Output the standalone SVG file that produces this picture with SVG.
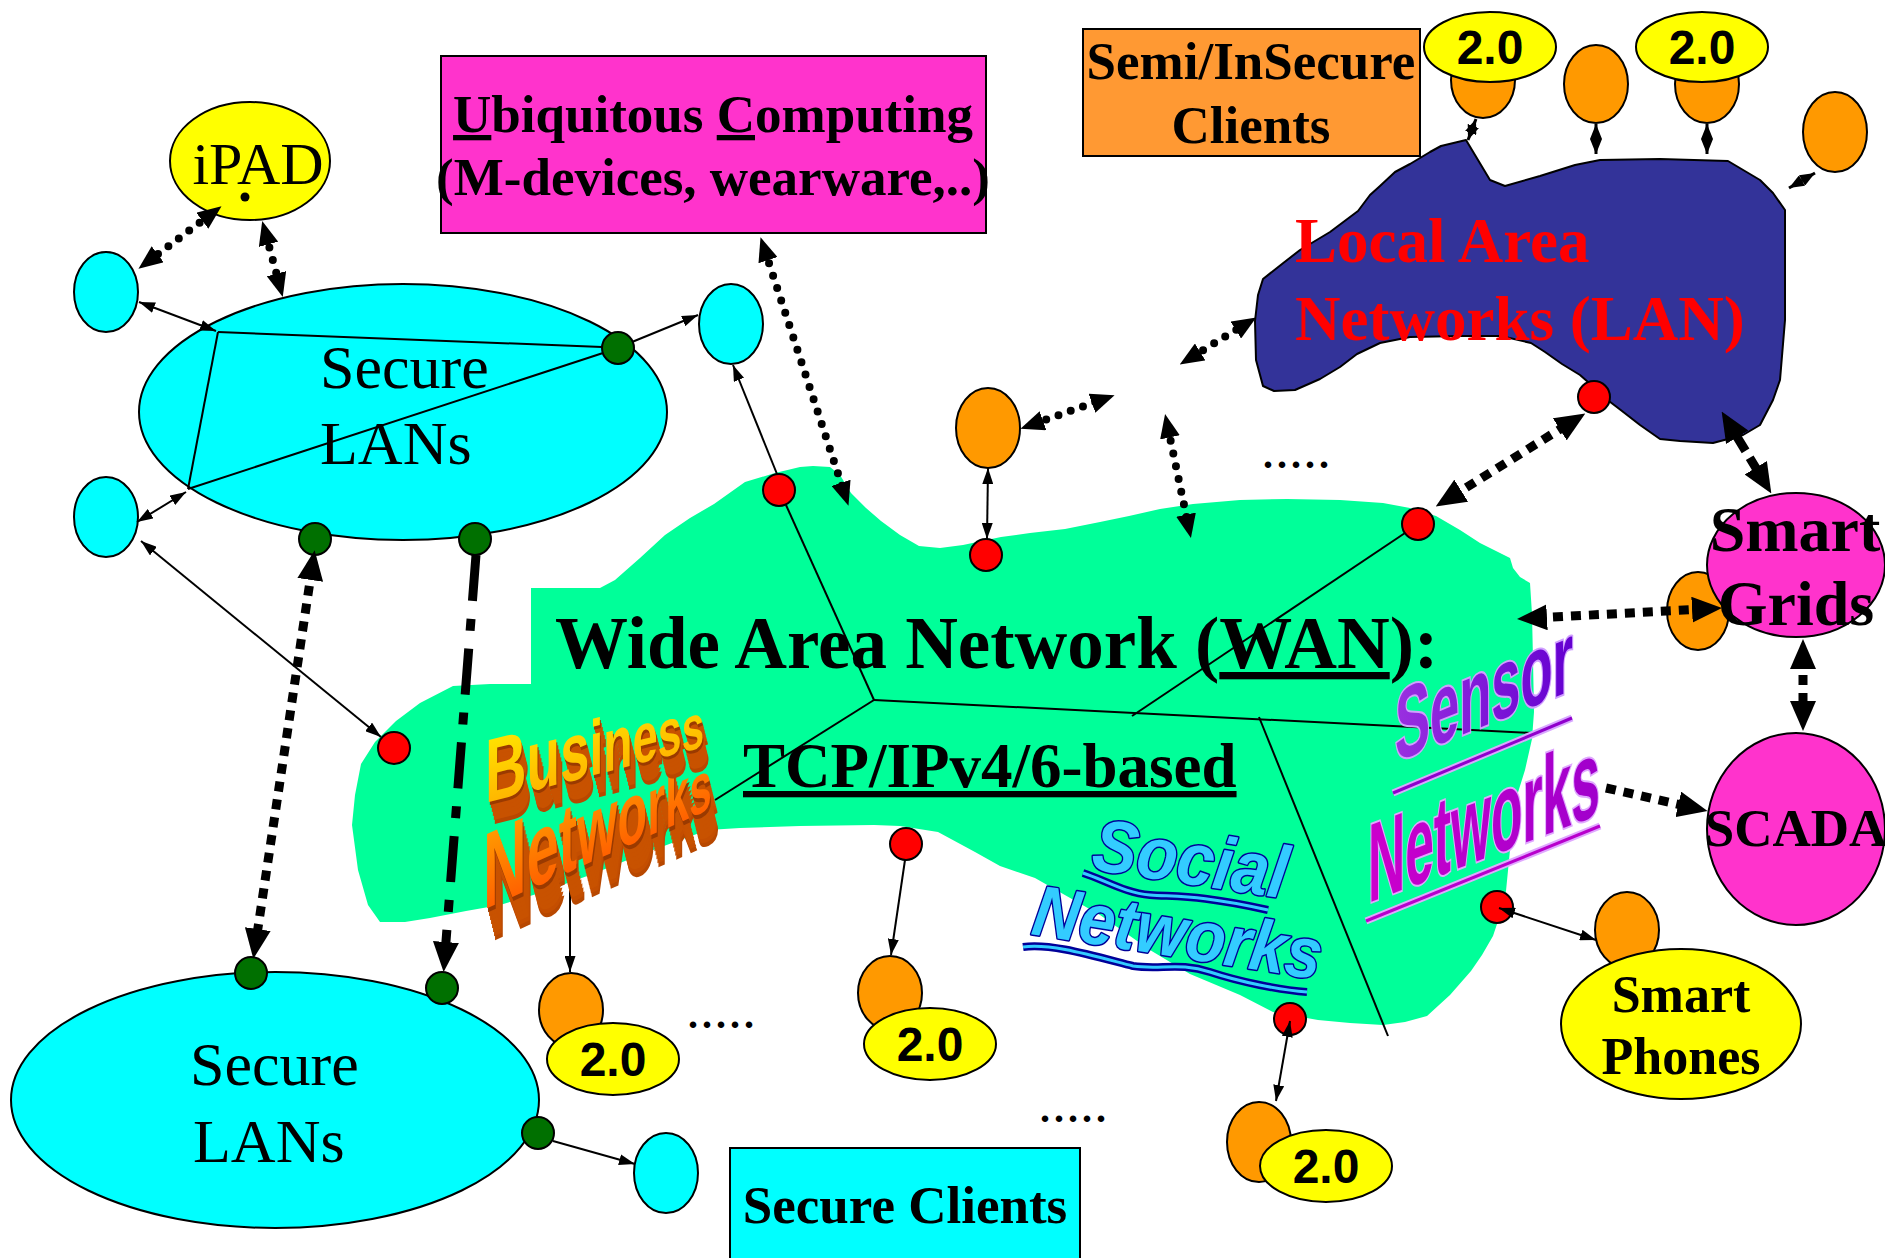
<svg xmlns="http://www.w3.org/2000/svg" xmlns:xlink="http://www.w3.org/1999/xlink" width="1885" height="1258" viewBox="0 0 1885 1258">
<style>
.sf{font-family:"Liberation Serif","Times New Roman",serif;fill:#000}
.bd{font-weight:bold}
.ss{font-family:"Liberation Sans",Arial,sans-serif;font-weight:bold}
.th{fill:none;stroke:#000;stroke-width:2}
.dr{fill:none;stroke:#000;stroke-width:8;stroke-dasharray:0 13;stroke-linecap:round}
.ds{fill:none;stroke:#000;stroke-width:9;stroke-dasharray:10 8}
.red{fill:#FF0000;stroke:#000;stroke-width:2}
.grn{fill:#007000;stroke:#000;stroke-width:2}
.org{fill:#FF9900;stroke:#000;stroke-width:2}
.cyn{fill:#00FFFF;stroke:#000;stroke-width:2}
.yel{fill:#FFFF00;stroke:#000;stroke-width:2}
.pnk{fill:#FF33CC;stroke:#000;stroke-width:2}
.v2{font-family:"Liberation Sans",Arial,sans-serif;font-weight:bold;font-size:48px;text-anchor:middle}
.dots{font-family:"Liberation Serif",serif;font-weight:bold;font-size:40px;letter-spacing:4px}
</style>
<defs>
<marker id="t" viewBox="0 0 10 10" refX="10" refY="5" markerWidth="16" markerHeight="11" markerUnits="userSpaceOnUse" orient="auto-start-reverse" preserveAspectRatio="none"><path d="M0,0L10,5L0,10z"/></marker>
<marker id="s" viewBox="0 0 10 10" refX="10" refY="5" markerWidth="15" markerHeight="12" markerUnits="userSpaceOnUse" orient="auto-start-reverse" preserveAspectRatio="none"><path d="M0,0L10,5L0,10z"/></marker>
<marker id="d" viewBox="0 0 10 10" refX="4" refY="5" markerWidth="24" markerHeight="20" markerUnits="userSpaceOnUse" orient="auto-start-reverse" preserveAspectRatio="none"><path d="M0,0L10,5L0,10z"/></marker>
<marker id="k" viewBox="0 0 10 10" refX="4" refY="5" markerWidth="30" markerHeight="26" markerUnits="userSpaceOnUse" orient="auto-start-reverse" preserveAspectRatio="none"><path d="M0,0L10,5L0,10z"/></marker>
<linearGradient id="gBiz" x1="0" y1="0" x2="0" y2="1"><stop offset="0" stop-color="#FFEE00"/><stop offset="1" stop-color="#FFAA00"/></linearGradient>
<linearGradient id="gNet" x1="0" y1="0" x2="0" y2="1"><stop offset="0" stop-color="#FFAA00"/><stop offset="1" stop-color="#FF5000"/></linearGradient>
<linearGradient id="gSen" x1="0" y1="0" x2="1" y2="0"><stop offset="0" stop-color="#9A30E0"/><stop offset="1" stop-color="#6400D0"/></linearGradient>
<linearGradient id="gSNet" x1="0" y1="0" x2="1" y2="0"><stop offset="0" stop-color="#CC00CC"/><stop offset="1" stop-color="#A000CC"/></linearGradient>
<g id="bizT" transform="translate(485,803) skewY(-14.4) scale(0.64,1)"><text class="ss" x="0" y="0"><tspan font-size="90">B</tspan><tspan font-size="86">u</tspan><tspan font-size="82">s</tspan><tspan font-size="78">i</tspan><tspan font-size="75">n</tspan><tspan font-size="71">e</tspan><tspan font-size="67">s</tspan><tspan font-size="63">s</tspan></text></g>
<g id="netT" transform="translate(483,910) skewY(-24) scale(0.56,1)"><text class="ss" x="0" y="0"><tspan font-size="108">N</tspan><tspan font-size="103">e</tspan><tspan font-size="98">t</tspan><tspan font-size="93">w</tspan><tspan font-size="87">o</tspan><tspan font-size="82">r</tspan><tspan font-size="77">k</tspan><tspan font-size="72">s</tspan></text></g>
</defs>

<rect width="1885" height="1258" fill="#FFFFFF"/>

<g id="wan">
<path fill="#00FF99" d="M531,588 L600,588 L615,580 L640,558 L665,535 L690,518 L714,504 L745,482 L775,473 L800,467 L813,466 L830,467 L840,475 L851,493 L866,508 L881,521 L900,535 L919,546 L940,548 L963,545 L1001,537 L1030,533 L1065,529 L1100,522 L1129,516 L1160,509 L1193,504 L1240,500 L1287,499 L1340,500 L1383,503 L1410,508 L1436,516 L1460,530 L1480,543 L1500,553 L1510,558 L1513,568 L1520,577 L1530,583 L1532,614 L1533,660 L1534,712 L1532,739 L1525,770 L1515,802 L1510,850 L1506,891 L1500,915 L1493,936 L1482,955 L1471,971 L1450,995 L1427,1016 L1405,1022 L1383,1025 L1350,1023 L1318,1020 L1273,1012 L1240,995 L1190,974 L1150,950 L1100,915 L1035,878 L1000,866 L975,852 L938,832 L900,826 L874,825 L800,826 L740,828 L708,830 L680,840 L640,855 L590,875 L540,893 L500,905 L466,911 L430,918 L405,922 L380,922 L368,905 L358,870 L352,825 L355,795 L361,764 L375,742 L396,721 L420,703 L453,686 L490,684 L531,684 Z"/>
<text class="sf bd" x="555" y="668" font-size="73">Wide Area Network (<tspan text-decoration="underline">WAN</tspan>):</text>
<text class="sf bd" x="743" y="787" font-size="63" text-decoration="underline">TCP/IPv4/6-based</text>
</g>

<g id="lan">
<path fill="#333399" stroke="#000" stroke-width="2" stroke-linejoin="round" d="M1466,140 L1478,160 L1490,180 L1505,186 L1540,176 L1575,165 L1600,160 L1660,159 L1728,161 L1760,180 L1773,193 L1785,210 L1785,320 L1780,380 L1773,400 L1760,425 L1743,435 L1713,443 L1680,441 L1660,439 L1640,425 L1622,411 L1605,398 L1596,389 L1580,375 L1562,364 L1545,352 L1531,343 L1501,336 L1460,336 L1410,337 L1380,343 L1357,354 L1340,367 L1320,379 L1295,390 L1274,391 L1263,386 L1256,360 L1255,321 L1258,295 L1263,279 L1282,264 L1300,250 L1330,232 L1358,211 L1370,195 L1380,186 L1395,172 L1410,164 L1430,152 L1441,146 Z"/>
<text class="sf bd" x="1295" y="262" font-size="63" style="fill:#FF0000">Local Area</text>
<text class="sf bd" x="1295" y="340" font-size="63" style="fill:#FF0000">Networks (LAN)</text>
</g>

<g id="secure-lans-top">
<ellipse class="cyn" cx="403" cy="412" rx="264" ry="128"/>
<text class="sf" x="320" y="388" font-size="62">Secure</text>
<text class="sf" x="320" y="464" font-size="62">LANs</text>
</g>
<g id="secure-lans-bottom">
<ellipse class="cyn" cx="275" cy="1100" rx="264" ry="128"/>
<text class="sf" x="190" y="1085" font-size="62">Secure</text>
<text class="sf" x="193" y="1162" font-size="62">LANs</text>
</g>
<g id="ipad">
<ellipse class="yel" cx="250" cy="161" rx="80" ry="59"/>
<text class="sf" x="258" y="184" font-size="60" text-anchor="middle">iPAD</text>
</g>
<g id="ubiquitous">
<rect x="441" y="56" width="545" height="177" class="pnk"/>
<text class="sf bd" x="713" y="132" font-size="53" text-anchor="middle"><tspan text-decoration="underline">U</tspan>biquitous <tspan text-decoration="underline">C</tspan>omputing</text>
<text class="sf bd" x="713" y="195" font-size="53" text-anchor="middle">(M-devices, wearware,..)</text>
</g>
<g id="semi-insecure">
<rect x="1083" y="29" width="337" height="127" fill="#FF9933" stroke="#000" stroke-width="2"/>
<text class="sf bd" x="1251" y="79" font-size="53" text-anchor="middle">Semi/InSecure</text>
<text class="sf bd" x="1251" y="143" font-size="53" text-anchor="middle">Clients</text>
</g>
<g id="secure-clients">
<rect x="730" y="1148" width="350" height="120" class="cyn"/>
<text class="sf bd" x="905" y="1223" font-size="53" text-anchor="middle">Secure Clients</text>
</g>

<g id="cyan-clients">
<ellipse class="cyn" cx="106" cy="292" rx="32" ry="40"/>
<ellipse class="cyn" cx="106" cy="517" rx="32" ry="40"/>
<ellipse class="cyn" cx="731" cy="324" rx="32" ry="40"/>
<ellipse class="cyn" cx="666" cy="1173" rx="32" ry="40"/>
</g>

<g id="orange-clients">
<ellipse class="org" cx="988" cy="428" rx="32" ry="40"/>
<ellipse class="org" cx="1483" cy="80" rx="32" ry="38"/>
<ellipse class="org" cx="1596" cy="84" rx="32" ry="39"/>
<ellipse class="org" cx="1707" cy="84" rx="32" ry="39"/>
<ellipse class="org" cx="1835" cy="132" rx="32" ry="40"/>
<ellipse class="org" cx="1698" cy="611" rx="31" ry="39"/>
<ellipse class="org" cx="1627" cy="930" rx="32" ry="38"/>
<ellipse class="org" cx="571" cy="1010" rx="32" ry="37"/>
<ellipse class="org" cx="890" cy="993" rx="32" ry="37"/>
<ellipse class="org" cx="1259" cy="1142" rx="32" ry="40"/>
</g>

<g id="web20">
<ellipse class="yel" cx="1490" cy="47" rx="66" ry="35"/><text class="v2" x="1490" y="64">2.0</text>
<ellipse class="yel" cx="1702" cy="47" rx="66" ry="35"/><text class="v2" x="1702" y="64">2.0</text>
<ellipse class="yel" cx="613" cy="1059" rx="66" ry="36"/><text class="v2" x="613" y="1076">2.0</text>
<ellipse class="yel" cx="930" cy="1044" rx="66" ry="36"/><text class="v2" x="930" y="1061">2.0</text>
<ellipse class="yel" cx="1326" cy="1166" rx="66" ry="36"/><text class="v2" x="1326" y="1183">2.0</text>
</g>

<g id="smart-grids">
<ellipse class="pnk" cx="1796" cy="565" rx="89" ry="72"/>
<text class="sf bd" x="1795" y="551" font-size="64" text-anchor="middle">Smart</text>
<text class="sf bd" x="1796" y="625" font-size="64" text-anchor="middle">Grids</text>
</g>
<g id="scada">
<ellipse class="pnk" cx="1796" cy="829" rx="89" ry="96"/>
<text class="sf bd" x="1796" y="846" font-size="53" text-anchor="middle">SCADA</text>
</g>
<g id="smart-phones">
<ellipse class="yel" cx="1681" cy="1024" rx="120" ry="75"/>
<text class="sf bd" x="1681" y="1012" font-size="52" text-anchor="middle">Smart</text>
<text class="sf bd" x="1681" y="1074" font-size="52" text-anchor="middle">Phones</text>
</g>

<g id="routers">
<circle class="grn" cx="618" cy="348" r="16"/>
<circle class="grn" cx="315" cy="539" r="16"/>
<circle class="grn" cx="475" cy="539" r="16"/>
<circle class="grn" cx="251" cy="973" r="16"/>
<circle class="grn" cx="442" cy="988" r="16"/>
<circle class="grn" cx="538" cy="1133" r="16"/>
<circle class="red" cx="779" cy="490" r="16"/>
<circle class="red" cx="986" cy="555" r="16"/>
<circle class="red" cx="1418" cy="524" r="16"/>
<circle class="red" cx="394" cy="748" r="16"/>
<circle class="red" cx="906" cy="844" r="16"/>
<circle class="red" cx="1290" cy="1019" r="16"/>
<circle class="red" cx="1497" cy="907" r="16"/>
<circle class="red" cx="1594" cy="397" r="16"/>
</g>

<g id="connectors">
<line class="th" x1="218" y1="332" x2="602" y2="347"/>
<line class="th" x1="218" y1="332" x2="188" y2="489"/>
<line class="th" x1="188" y1="489" x2="603" y2="353"/>
<line class="th" x1="786" y1="505" x2="874" y2="700"/>
<line class="th" x1="874" y1="700" x2="1532" y2="733"/>
<line class="th" x1="874" y1="700" x2="715" y2="800"/>
<line class="th" x1="1405" y1="533" x2="1132" y2="716"/>
<line class="th" x1="1259" y1="717" x2="1388" y2="1036"/>

<line class="th" x1="139" y1="302" x2="216" y2="331" marker-start="url(#t)" marker-end="url(#t)"/>
<line class="th" x1="186" y1="492" x2="137" y2="522" marker-start="url(#t)" marker-end="url(#t)"/>
<line class="th" x1="632" y1="342" x2="698" y2="315" marker-end="url(#t)"/>
<line class="th" x1="141" y1="541" x2="381" y2="737" marker-start="url(#t)" marker-end="url(#t)"/>
<line class="th" x1="777" y1="474" x2="733" y2="365" marker-end="url(#t)"/>
<line class="th" x1="987" y1="539" x2="988" y2="468" marker-start="url(#t)" marker-end="url(#t)"/>
<line class="th" x1="570" y1="880" x2="570" y2="972" marker-end="url(#t)"/>
<line class="th" x1="905" y1="860" x2="891" y2="955" marker-end="url(#t)"/>
<line class="th" x1="1290" y1="1021" x2="1276" y2="1101" marker-start="url(#t)" marker-end="url(#t)"/>
<line class="th" x1="1499" y1="908" x2="1596" y2="940" marker-start="url(#t)" marker-end="url(#t)"/>
<line class="th" x1="553" y1="1141" x2="635" y2="1164" marker-end="url(#t)"/>

<line fill="none" stroke="#000" stroke-width="3" x1="1476" y1="119" x2="1468" y2="140" marker-start="url(#s)" marker-end="url(#s)"/>
<line fill="none" stroke="#000" stroke-width="3" x1="1596" y1="124" x2="1596" y2="154" marker-start="url(#s)" marker-end="url(#s)"/>
<line fill="none" stroke="#000" stroke-width="3" x1="1707" y1="124" x2="1707" y2="154" marker-start="url(#s)" marker-end="url(#s)"/>
<line fill="none" stroke="#000" stroke-width="3" x1="1789" y1="188" x2="1815" y2="173" marker-start="url(#s)" marker-end="url(#s)"/>

<circle cx="245" cy="197" r="4.5" fill="#000"/>
<line class="dr" x1="210" y1="215" x2="150" y2="260" marker-start="url(#d)" marker-end="url(#d)"/>
<line class="dr" x1="266" y1="235" x2="279" y2="283" marker-start="url(#d)" marker-end="url(#d)"/>
<line class="dr" x1="765" y1="251" x2="844" y2="492" marker-start="url(#d)" marker-end="url(#d)"/>
<line class="dr" x1="1034" y1="424" x2="1101" y2="400" marker-start="url(#d)" marker-end="url(#d)"/>
<line class="dr" x1="1168" y1="428" x2="1188" y2="524" marker-start="url(#d)" marker-end="url(#d)"/>
<line class="dr" x1="1192" y1="357" x2="1244" y2="325" marker-start="url(#d)" marker-end="url(#d)"/>

<line class="ds" x1="312" y1="568" x2="256" y2="941" marker-start="url(#k)" marker-end="url(#k)"/>
<line fill="none" stroke="#000" stroke-width="9" stroke-dasharray="46 18 12 18" x1="476" y1="555" x2="445" y2="954" marker-end="url(#k)"/>
<line class="ds" x1="1451" y1="497" x2="1570" y2="423" marker-start="url(#k)" marker-end="url(#k)"/>
<line class="ds" x1="1535" y1="618" x2="1704" y2="609" marker-start="url(#k)" marker-end="url(#k)"/>
<line class="ds" x1="1803" y1="657" x2="1803" y2="713" marker-start="url(#k)" marker-end="url(#k)"/>
<line class="ds" x1="1606" y1="788" x2="1690" y2="807" marker-end="url(#k)"/>
<line fill="none" stroke="#000" stroke-width="9" stroke-dasharray="28 8" x1="1731" y1="427" x2="1762" y2="478" marker-start="url(#k)" marker-end="url(#k)"/>
</g>

<g id="ellipsis-marks">
<text class="dots" x="688" y="1028">.....</text>
<text class="dots" x="1040" y="1122">.....</text>
<text class="dots" x="1263" y="468">.....</text>
</g>

<g id="business-networks">
<use xlink:href="#netT" transform="translate(8,32)" fill="#B84800"/>
<use xlink:href="#netT" transform="translate(7,28)" fill="#C44E00"/>
<use xlink:href="#netT" transform="translate(6,24)" fill="#C85200"/>
<use xlink:href="#netT" transform="translate(5,20)" fill="#C85200"/>
<use xlink:href="#netT" transform="translate(4,16)" fill="#C85200"/>
<use xlink:href="#netT" transform="translate(3,12)" fill="#C85200"/>
<use xlink:href="#netT" transform="translate(2,8)" fill="#C85200"/>
<use xlink:href="#netT" transform="translate(1,4)" fill="#9A3A00"/>
<use xlink:href="#netT" fill="url(#gNet)"/>
<use xlink:href="#bizT" transform="translate(6,22)" fill="#B84800"/>
<use xlink:href="#bizT" transform="translate(5,18)" fill="#C85200"/>
<use xlink:href="#bizT" transform="translate(4,14)" fill="#C85200"/>
<use xlink:href="#bizT" transform="translate(3,10)" fill="#C85200"/>
<use xlink:href="#bizT" transform="translate(2,6)" fill="#C85200"/>
<use xlink:href="#bizT" transform="translate(1,3)" fill="#9A3A00"/>
<use xlink:href="#bizT" fill="url(#gBiz)"/>
</g>

<g id="sensor-networks">
<line x1="1393" y1="793" x2="1572" y2="718" stroke="#D8A8FF" stroke-width="7"/>
<line x1="1393" y1="793" x2="1572" y2="718" stroke="#9000CC" stroke-width="3"/>
<line x1="1366" y1="921" x2="1600" y2="826" stroke="#E0A8FF" stroke-width="7"/>
<line x1="1366" y1="921" x2="1600" y2="826" stroke="#B800CC" stroke-width="3"/>
<g transform="translate(1395,762) skewY(-22) scale(0.52,1)"><text class="ss" x="0" y="0" font-size="101" fill="url(#gSen)" stroke="#D0A0FF" stroke-width="4" paint-order="stroke">Sensor</text></g>
<g transform="translate(1368,903) skewY(-21) scale(0.46,1)"><text class="ss" x="0" y="0" font-size="112" fill="url(#gSNet)" stroke="#E0A8FF" stroke-width="4" paint-order="stroke">Networks</text></g>
</g>

<g id="social-networks">
<path d="M1083,873 C1105,880 1125,893 1150,895 C1180,897 1200,895 1268,910" fill="none" stroke="#000099" stroke-width="8"/>
<path d="M1083,873 C1105,880 1125,893 1150,895 C1180,897 1200,895 1268,910" fill="none" stroke="#33CCFF" stroke-width="3"/>
<path d="M1023,947 C1050,943 1090,955 1133,966 C1160,970 1180,962 1210,972 C1240,982 1280,990 1307,992" fill="none" stroke="#000099" stroke-width="8"/>
<path d="M1023,947 C1050,943 1090,955 1133,966 C1160,970 1180,962 1210,972 C1240,982 1280,990 1307,992" fill="none" stroke="#33CCFF" stroke-width="3"/>
<g transform="translate(1090,869) rotate(8.7) scale(0.9,1)"><text x="0" y="0" font-family="Liberation Sans, Arial, sans-serif" font-weight="bold" font-style="italic" font-size="74" fill="#33CCFF" stroke="#000099" stroke-width="3" stroke-linejoin="round" paint-order="stroke">Social</text></g>
<g transform="translate(1030,934) rotate(9) scale(0.9,1)"><text x="0" y="0" font-family="Liberation Sans, Arial, sans-serif" font-weight="bold" font-style="italic" font-size="72" fill="#33CCFF" stroke="#000099" stroke-width="3" stroke-linejoin="round" paint-order="stroke">Networks</text></g>
</g>
</svg>
